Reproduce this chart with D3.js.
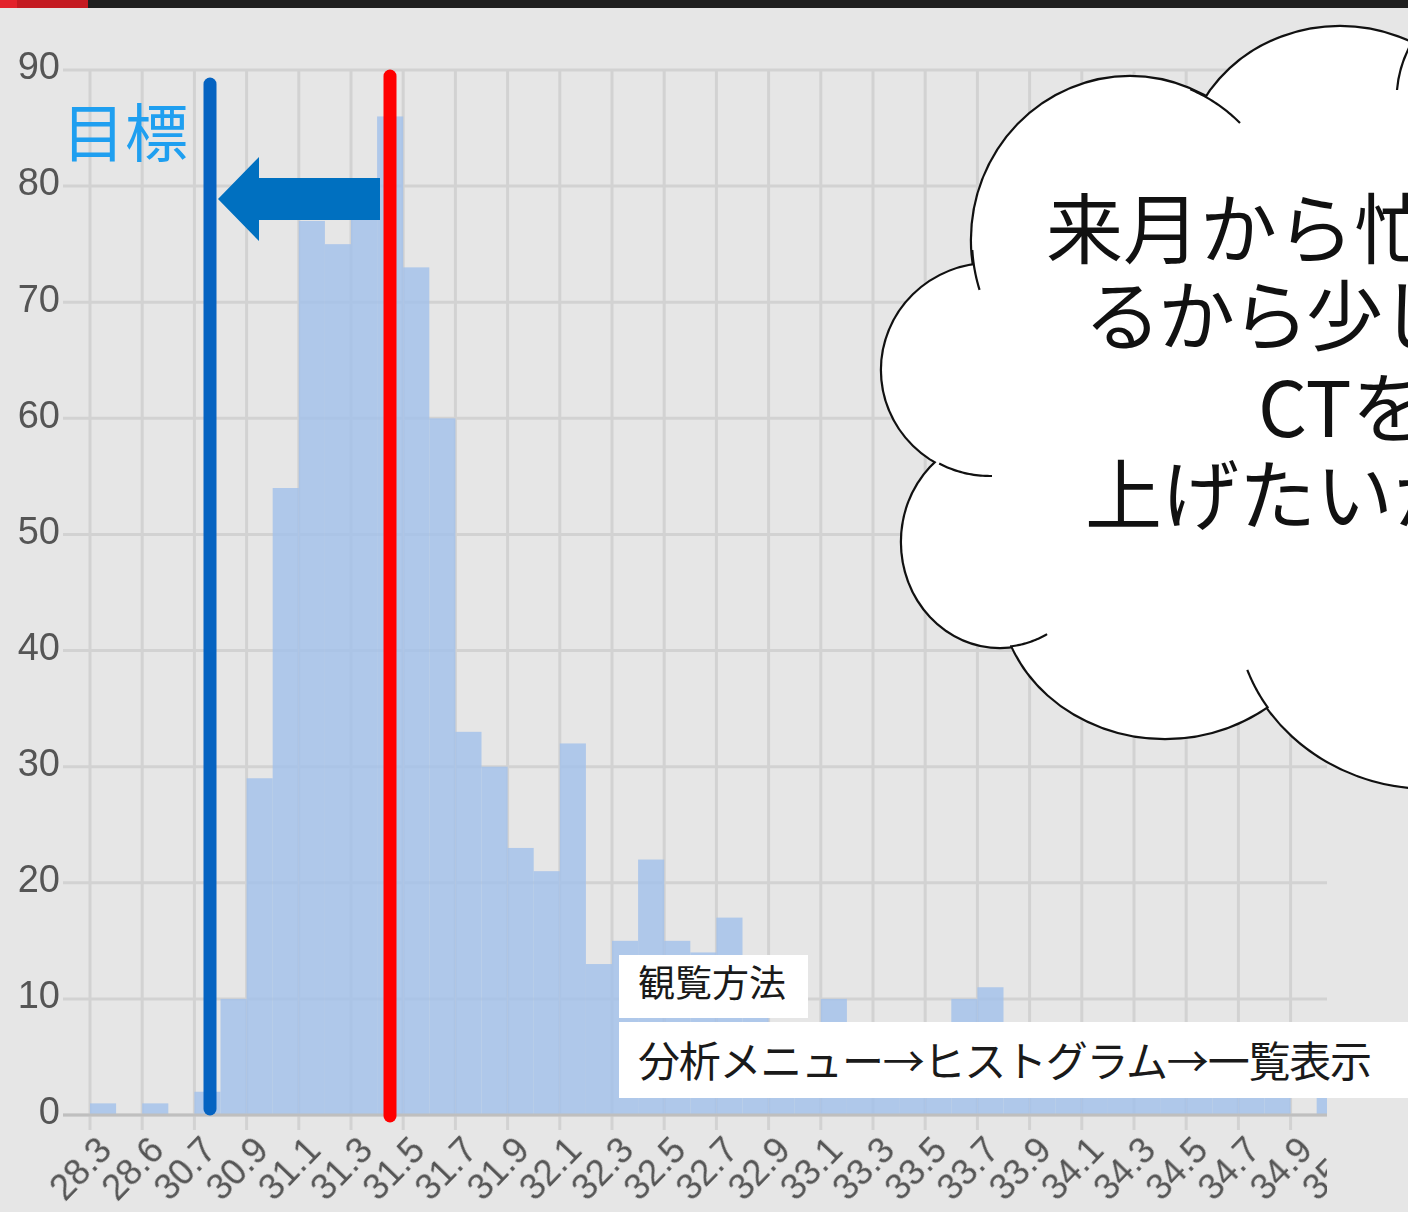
<!DOCTYPE html>
<html>
<head>
<meta charset="utf-8">
<script src="https://cdn.jsdelivr.net/npm/d3@7"></script>
<style>
html,body{margin:0;padding:0;background:#e6e6e6;overflow:hidden}
svg{display:block}
</style>
</head>
<body>
<svg id="c" width="1408" height="1212"></svg>
<script>
// ---------------- data ----------------
const categories = ["28.3","28.5","28.6","30.6","30.7","30.8","30.9","31.0","31.1","31.2",
  "31.3","31.4","31.5","31.6","31.7","31.8","31.9","32.0","32.1","32.2",
  "32.3","32.4","32.5","32.6","32.7","32.8","32.9","33.0","33.1","33.2",
  "33.3","33.4","33.5","33.6","33.7","33.8","33.9","34.0","34.1","34.2",
  "34.3","34.4","34.5","34.6","34.7","34.8","34.9","35.0","35.1"];
const counts = [1,0,1,0,2,10,29,54,77,75,
  80,86,73,60,33,30,23,21,32,13,
  15,22,15,14,17,9,7,6,10,7,
  5,6,4,10,11,6,4,3,4,3,
  2,3,2,2,2,2,0,2,1];
const tickLabels = ["28.3","28.6","30.7","30.9","31.1","31.3","31.5","31.7","31.9","32.1",
  "32.3","32.5","32.7","32.9","33.1","33.3","33.5","33.7","33.9","34.1",
  "34.3","34.5","34.7","34.9","35.1"];
const yTicks = [0,10,20,30,40,50,60,70,80,90];
const targetLabel = "目標";
const noteTitle = "観覧方法";
const noteBody = "分析メニュー→ヒストグラム→一覧表示";
const cloudLines = ["来月から忙","るから少し","CTを","上げたいか"];

// ---------------- layout ----------------
const svg = d3.select("#c");
const W = 1408, H = 1212;
const plotLeft = 90, plotTop = 70, plotBottom = 1115, bandW = 26.1, clipRight = 1327;
const latin = "'Liberation Sans', Arial, Helvetica, sans-serif";
const cjk = "'Noto Sans CJK JP', 'Noto Sans', sans-serif";

svg.append("rect").attr("width", W).attr("height", H).attr("fill", "#e6e6e6");

const defs = svg.append("defs");
defs.append("clipPath").attr("id", "plotClip")
  .append("rect").attr("x", 0).attr("y", 0).attr("width", clipRight).attr("height", H);
defs.append("filter").attr("id", "soft").attr("x", "-10%").attr("y", "-10%")
  .attr("width", "120%").attr("height", "120%")
  .append("feGaussianBlur").attr("stdDeviation", 0.6);

const x = d3.scaleBand().domain(categories)
  .range([plotLeft, plotLeft + categories.length * bandW]).padding(0);
const y = d3.scaleLinear().domain([0, 90]).range([plotBottom, plotTop]);

const chart = svg.append("g").attr("clip-path", "url(#plotClip)");

// horizontal grid
chart.selectAll("line.hg").data(yTicks).join("line")
  .attr("class", "hg")
  .attr("x1", 63).attr("x2", W)
  .attr("y1", d => y(d)).attr("y2", d => y(d))
  .attr("stroke", "#d2d2d2").attr("stroke-width", 3);

// vertical grid
chart.selectAll("line.vg").data(tickLabels).join("line")
  .attr("class", "vg")
  .attr("x1", d => x(d)).attr("x2", d => x(d))
  .attr("y1", plotTop).attr("y2", 1130)
  .attr("stroke", "#d2d2d2").attr("stroke-width", 3);

// bars
chart.selectAll("rect.bar").data(categories.map((c, i) => ({c, v: counts[i]}))).join("rect")
  .attr("class", "bar")
  .attr("x", d => x(d.c)).attr("width", x.bandwidth())
  .attr("y", d => y(d.v)).attr("height", d => y(0) - y(d.v))
  .attr("fill", "rgb(164,194,234)").attr("fill-opacity", 0.85);

// zero axis
chart.append("line").attr("x1", 63).attr("x2", W)
  .attr("y1", y(0)).attr("y2", y(0))
  .attr("stroke", "#bfbfbf").attr("stroke-width", 3);

// y labels
chart.selectAll("text.yl").data(yTicks).join("text")
  .attr("class", "yl")
  .attr("x", 60).attr("y", d => y(d) - 4)
  .attr("dy", "0.35em")
  .attr("text-anchor", "end")
  .attr("font-family", latin).attr("font-size", 38)
  .attr("fill", "#555").attr("filter", "url(#soft)")
  .text(d => d);

// x labels
chart.selectAll("text.xl").data(tickLabels).join("text")
  .attr("class", "xl")
  .attr("transform", d => `translate(${x(d) + 5},1134) rotate(-46)`)
  .attr("dy", "0.72em")
  .attr("text-anchor", "end")
  .attr("font-family", latin).attr("font-size", 36)
  .attr("fill", "#555").attr("filter", "url(#soft)")
  .text(d => d);

// top strip
svg.append("rect").attr("x", 0).attr("y", 0).attr("width", W).attr("height", 8).attr("fill", "#1f1f1f");
svg.append("rect").attr("x", 0).attr("y", 0).attr("width", 17).attr("height", 8).attr("fill", "#e3222b");
svg.append("rect").attr("x", 17).attr("y", 0).attr("width", 71).attr("height", 8).attr("fill", "#c41a21");

// target / current lines
svg.append("line").attr("x1", 210).attr("x2", 210).attr("y1", 84).attr("y2", 1109)
  .attr("stroke", "#0563c1").attr("stroke-width", 13).attr("stroke-linecap", "round");
svg.append("path")
  .attr("d", "M218,199 L259,157 L259,178 L380,178 L380,220 L259,220 L259,241 Z")
  .attr("fill", "#0070c0");
svg.append("line").attr("x1", 390).attr("x2", 390).attr("y1", 76).attr("y2", 1116)
  .attr("stroke", "#ff0000").attr("stroke-width", 13).attr("stroke-linecap", "round");

svg.append("text").attr("x", 62).attr("y", 156)
  .attr("font-family", cjk).attr("font-size", 63).attr("fill", "#1f9ff0")
  .text(targetLabel);

// note boxes
svg.append("rect").attr("x", 619).attr("y", 955).attr("width", 189).attr("height", 63).attr("fill", "#ffffff");
svg.append("text").attr("x", 638).attr("y", 997)
  .attr("font-family", cjk).attr("font-size", 37).attr("fill", "#1a1a1a")
  .text(noteTitle);
svg.append("rect").attr("x", 619).attr("y", 1022).attr("width", 800).attr("height", 76).attr("fill", "#ffffff");
svg.append("text").attr("x", 638).attr("y", 1077)
  .attr("font-family", cjk).attr("font-size", 42).attr("fill", "#1a1a1a")
  .attr("textLength", 734).attr("lengthAdjust", "spacing")
  .text(noteBody);

// cloud
const bumps = [
  {cx: 1340, cy: 170, rx: 155, ry: 143},
  {cx: 1130, cy: 240, rx: 158, ry: 163},
  {cx: 990,  cy: 370, rx: 108, ry: 106},
  {cx: 1000, cy: 542, rx: 98,  ry: 105},
  {cx: 1165, cy: 590, rx: 165, ry: 148},
  {cx: 1430, cy: 610, rx: 194, ry: 178}
];
const filler = {cx: 1250, cy: 400, rx: 260, ry: 280};
const cloud = svg.append("g");
cloud.selectAll("ellipse.o").data(bumps).join("ellipse").attr("class", "o")
  .attr("cx", d => d.cx).attr("cy", d => d.cy).attr("rx", d => d.rx).attr("ry", d => d.ry)
  .attr("fill", "#fff").attr("stroke", "#111").attr("stroke-width", 4.4);
cloud.selectAll("ellipse.f").data(bumps.concat([filler])).join("ellipse").attr("class", "f")
  .attr("cx", d => d.cx).attr("cy", d => d.cy).attr("rx", d => d.rx).attr("ry", d => d.ry)
  .attr("fill", "#fff");

function arcPath(e, p1, p2) {
  let t1 = Math.atan2((p1[1] - e.cy) / e.ry, (p1[0] - e.cx) / e.rx);
  let t2 = Math.atan2((p2[1] - e.cy) / e.ry, (p2[0] - e.cx) / e.rx);
  let dt = t2 - t1;
  while (dt > Math.PI) dt -= 2 * Math.PI;
  while (dt < -Math.PI) dt += 2 * Math.PI;
  const n = 24, pts = [];
  for (let k = 0; k <= n; k++) {
    const t = t1 + dt * k / n;
    pts.push([e.cx + e.rx * Math.cos(t), e.cy + e.ry * Math.sin(t)]);
  }
  return d3.line()(pts);
}
const tails = [
  {b: 1, p1: [1190, 90],  p2: [1240, 123]},
  {b: 1, p1: [972, 250],  p2: [979, 290]},
  {b: 2, p1: [940, 462],  p2: [992, 476]},
  {b: 3, p1: [1010, 645], p2: [1046, 632]},
  {b: 5, p1: [1262, 712], p2: [1247, 670]}
];
cloud.selectAll("path.t").data(tails).join("path").attr("class", "t")
  .attr("d", d => arcPath(bumps[d.b], d.p1, d.p2))
  .attr("fill", "none").attr("stroke", "#111").attr("stroke-width", 2.2);
cloud.append("path").attr("d", "M1397,90 Q1399,66 1411,44")
  .attr("fill", "none").attr("stroke", "#111").attr("stroke-width", 2.2);

const lineX = [1046, 1084, 1258, 1085];
const lineY = [258, 345, 437, 524];
const lineSpacing = [0, -3, 0, 0];
cloud.selectAll("text.cl").data(cloudLines).join("text").attr("class", "cl")
  .attr("x", (d, i) => lineX[i]).attr("y", (d, i) => lineY[i])
  .attr("letter-spacing", (d, i) => lineSpacing[i])
  .attr("font-family", cjk).attr("font-size", 77).attr("fill", "#111")
  .text(d => d);
</script>
</body>
</html>
